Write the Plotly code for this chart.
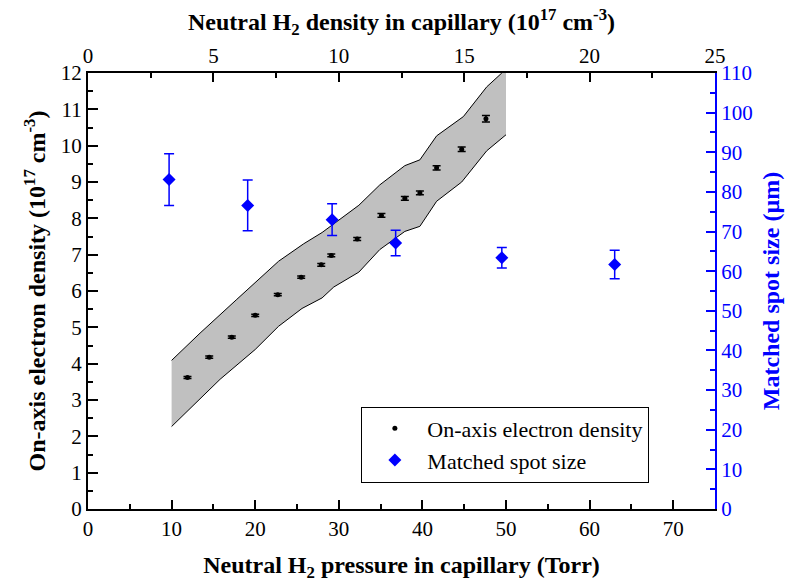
import plotly.graph_objects as go

# ---- data ----
pressure = [11.9, 14.5, 17.2, 20.0, 22.7, 25.5, 27.9, 29.1, 32.2, 35.1, 37.9, 39.7, 41.7, 44.7, 47.6]
density = [3.62, 4.18, 4.73, 5.33, 5.90, 6.38, 6.72, 6.98, 7.43, 8.08, 8.55, 8.70, 9.39, 9.90, 10.74]
density_err = [0.03, 0.03, 0.03, 0.03, 0.03, 0.03, 0.04, 0.04, 0.04, 0.05, 0.05, 0.05, 0.06, 0.06, 0.09]

band_upper_p = [10, 13.4, 17.8, 22.8, 25.8, 28.0, 32.4, 34.9, 37.9, 39.7, 41.7, 44.9, 47.7, 49.5, 50]
band_upper_d = [4.09, 4.84, 5.77, 6.82, 7.30, 7.61, 8.36, 8.92, 9.45, 9.61, 10.27, 10.80, 11.62, 12.0, 12.15]
band_lower_p = [10, 15.8, 20.0, 22.8, 25.6, 28.0, 29.4, 32.4, 34.9, 37.9, 39.7, 41.7, 44.7, 47.7, 50]
band_lower_d = [2.27, 3.57, 4.39, 5.03, 5.52, 5.81, 6.11, 6.52, 7.14, 7.64, 7.78, 8.47, 9.00, 9.86, 10.30]

spot_p = [9.7, 19.1, 29.2, 36.8, 49.5, 63.0]
spot = [83.1, 76.6, 73.0, 67.1, 63.4, 61.7]
spot_err = [6.5, 6.4, 4.0, 3.2, 2.6, 3.6]

FONT = "Liberation Serif"
BLUE = "#0000ff"

fig = go.Figure()

# band fill (no outline on vertical sides)
fig.add_trace(go.Scatter(
    x=band_upper_p + band_lower_p[::-1],
    y=band_upper_d + band_lower_d[::-1],
    fill="toself", fillcolor="#c0c0c0", mode="none",
    showlegend=False, hoverinfo="skip", xaxis="x", yaxis="y"))
fig.add_trace(go.Scatter(x=band_upper_p, y=band_upper_d, mode="lines",
                         line=dict(color="black", width=1), showlegend=False,
                         hoverinfo="skip", xaxis="x", yaxis="y"))
fig.add_trace(go.Scatter(x=band_lower_p, y=band_lower_d, mode="lines",
                         line=dict(color="black", width=1), showlegend=False,
                         hoverinfo="skip", xaxis="x", yaxis="y"))

fig.add_trace(go.Scatter(
    x=pressure, y=density, mode="markers", name="On-axis electron density",
    marker=dict(color="black", size=5, symbol="circle"),
    error_y=dict(type="data", array=density_err, color="black", thickness=1.5, width=4),
    xaxis="x", yaxis="y"))

fig.add_trace(go.Scatter(
    x=spot_p, y=spot, mode="markers", name="Matched spot size",
    marker=dict(color=BLUE, size=10, symbol="diamond"),
    error_y=dict(type="data", array=spot_err, color=BLUE, thickness=1.5, width=5),
    xaxis="x", yaxis="y2"))

# invisible trace to activate top axis
fig.add_trace(go.Scatter(x=[0], y=[0], mode="markers", marker=dict(opacity=0),
                         showlegend=False, hoverinfo="skip", xaxis="x2", yaxis="y"))

tickfont = dict(family=FONT, size=21, color="black")
titlefont = dict(family=FONT, size=24, color="black")

fig.update_layout(
    width=802, height=586,
    margin=dict(l=88, r=87, t=73, b=75),
    paper_bgcolor="white", plot_bgcolor="white",
    font=dict(family=FONT),
    showlegend=True,
    legend=dict(x=0.436, y=0.235, xanchor="left", yanchor="top",
                bordercolor="black", borderwidth=1, bgcolor="white",
                font=dict(family=FONT, size=22, color="black"),
                itemwidth=55, tracegroupgap=0),
    xaxis=dict(range=[0, 75], dtick=10, tick0=0, showgrid=False, zeroline=False,
               showline=True, linecolor="black", linewidth=2,
               ticks="inside", ticklen=9, tickwidth=2, tickcolor="black",
               minor=dict(ticks="inside", ticklen=5, tickwidth=2, dtick=5, tickcolor="black", showgrid=False),
               tickfont=tickfont,
               title=dict(text="<b>Neutral H<sub>2</sub> pressure in capillary (Torr)</b>",
                          font=titlefont, standoff=16)),
    xaxis2=dict(range=[0, 25], dtick=5, tick0=0, overlaying="x", side="top",
                showgrid=False, zeroline=False,
                showline=True, linecolor="black", linewidth=2,
                ticks="inside", ticklen=9, tickwidth=2, tickcolor="black",
                minor=dict(ticks="inside", ticklen=5, tickwidth=2, dtick=2.5, tickcolor="black", showgrid=False),
                tickfont=tickfont,
                title=dict(text="<b>Neutral H<sub>2</sub> density in capillary (10<sup>17</sup> cm<sup>-3</sup>)</b>",
                           font=titlefont, standoff=6)),
    yaxis=dict(range=[0, 12], dtick=1, tick0=0, showgrid=False, zeroline=False,
               showline=True, linecolor="black", linewidth=2,
               ticks="inside", ticklen=10, tickwidth=2, tickcolor="black",
               minor=dict(ticks="inside", ticklen=5, tickwidth=2, dtick=0.5, tickcolor="black", showgrid=False),
               tickfont=tickfont,
               title=dict(text="<b>On-axis electron density (10<sup>17</sup> cm<sup>-3</sup>)</b>",
                          font=titlefont, standoff=8)),
    yaxis2=dict(range=[0, 110], dtick=10, tick0=0, overlaying="y", side="right",
                showgrid=False, zeroline=False,
                showline=True, linecolor=BLUE, linewidth=2,
                ticks="inside", ticklen=9, tickwidth=2, tickcolor=BLUE,
                minor=dict(ticks="inside", ticklen=5, tickwidth=2, dtick=5, tickcolor=BLUE, showgrid=False),
                tickfont=dict(family=FONT, size=21, color=BLUE),
                title=dict(text="<b>Matched spot size (µm)</b>",
                           font=dict(family=FONT, size=24, color=BLUE), standoff=10)),
)

fig.write_html("out.html")
